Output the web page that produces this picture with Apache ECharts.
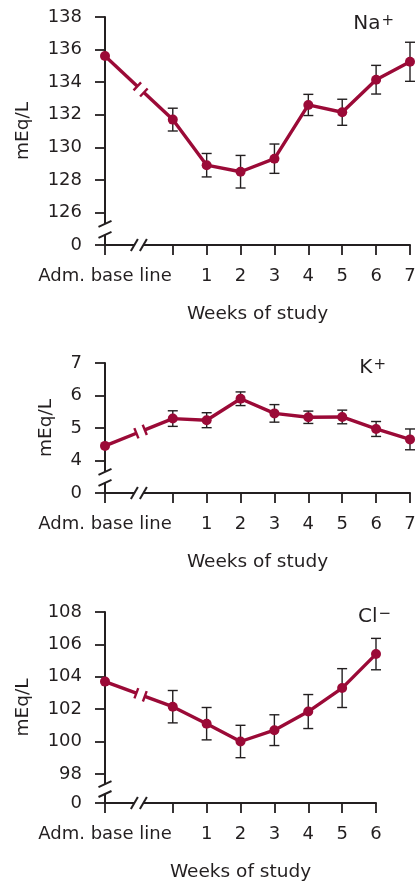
<!DOCTYPE html>
<html>
<head>
<meta charset="utf-8">
<script src="https://cdn.jsdelivr.net/npm/echarts@6/dist/echarts.min.js"></script>
<style>
  html, body { margin: 0; padding: 0; background: #ffffff; }
  #chart { width: 419px; height: 883px; }
</style>
</head>
<body>
<div id="chart"></div>
<script>
// Study time line: admission base line, an axis break, the start of study, then weekly visits.
const stages   = ['Adm. base line', 'gap', 'start', '1', '2', '3', '4', '5', '6', '7'];
const clStages = ['Adm. base line', 'gap', 'start', '1', '2', '3', '4', '5', '6'];

// Serum sodium (mEq/L): mean and ± error per time point
const naMean = [135.6, null, 131.7, 128.9, 128.5, 129.3, 132.6, 132.15, 134.15, 135.25];
const naErr  = [null,  null, 0.7,   0.72,  1.0,   0.9,   0.65,  0.8,    0.88,   1.2];
const naYTicks = [124, 126, 128, 130, 132, 134, 136, 138];

// Serum potassium (mEq/L)
const kMean = [4.45, null, 5.29, 5.24, 5.9,  5.45, 5.33, 5.34, 4.97, 4.65];
const kErr  = [null, null, 0.24, 0.23, 0.21, 0.27, 0.19, 0.21, 0.23, 0.32];
const kYTicks = [3, 4, 5, 6, 7];

// Serum chloride (mEq/L)
const clMean = [103.7, null, 102.15, 101.1, 100.0, 100.7, 101.85, 103.3, 105.4];
const clErr  = [null,  null, 1.0,    1.0,   1.0,   0.95,  1.05,   1.2,   0.97];
const clYTicks = [96.2, 98, 100, 102, 104, 106, 108];

const FONT = 'DejaVu Sans';
const INK = '#231f20';
const WINE = '#9b0a37';

const panels = [
  { ion: 'Na', sign: '+', cats: stages,   mean: naMean, err: naErr, ticks: naYTicks,
    grid: { left: 105, top: 17, width: 305, height: 228 }, nameGap: 72,
    title: { right: 20, top: 9 } },
  { ion: 'K',  sign: '+', cats: stages,   mean: kMean,  err: kErr,  ticks: kYTicks,
    grid: { left: 105, top: 363, width: 305, height: 130 }, nameGap: 49,
    title: { right: 28, top: 353 } },
  { ion: 'Cl', sign: '\u2212', cats: clStages, mean: clMean, err: clErr, ticks: clYTicks,
    grid: { left: 105, top: 612, width: 271, height: 191 }, nameGap: 72,
    title: { right: 23, top: 602 } }
];

// Vertical error bar with short caps
function errorBarItem(params, api) {
  const x = api.value(0);
  const hi = api.coord([x, api.value(2)]);
  const lo = api.coord([x, api.value(1)]);
  const w = 5;
  const style = { stroke: INK, lineWidth: 1.4 };
  return {
    type: 'group',
    children: [
      { type: 'line', shape: { x1: hi[0], y1: hi[1], x2: lo[0], y2: lo[1] }, style },
      { type: 'line', shape: { x1: hi[0] - w, y1: hi[1], x2: hi[0] + w, y2: hi[1] }, style },
      { type: 'line', shape: { x1: lo[0] - w, y1: lo[1], x2: lo[0] + w, y2: lo[1] }, style }
    ]
  };
}

// Line from the admission value to the start of study, interrupted by a break
function makeConnector(mean) {
  return function (params, api) {
    const p0 = api.coord([0, mean[0]]);
    const p1 = api.coord([2, mean[2]]);
    const dx = p1[0] - p0[0], dy = p1[1] - p0[1];
    const len = Math.hypot(dx, dy);
    const ux = dx / len, uy = dy / len;
    const nx = -uy, ny = ux;
    const mid = 0.525 * len, half = 4.5, cap = 5.5;
    const a = [p0[0] + ux * (mid - half), p0[1] + uy * (mid - half)];
    const b = [p0[0] + ux * (mid + half), p0[1] + uy * (mid + half)];
    const seg = { stroke: WINE, lineWidth: 3.4 };
    const capStyle = { stroke: WINE, lineWidth: 2.4 };
    return {
      type: 'group',
      children: [
        { type: 'line', shape: { x1: p0[0], y1: p0[1], x2: a[0], y2: a[1] }, style: seg },
        { type: 'line', shape: { x1: b[0], y1: b[1], x2: p1[0], y2: p1[1] }, style: seg },
        { type: 'line', shape: { x1: a[0] - nx * cap, y1: a[1] - ny * cap, x2: a[0] + nx * cap, y2: a[1] + ny * cap }, style: capStyle },
        { type: 'line', shape: { x1: b[0] - nx * cap, y1: b[1] - ny * cap, x2: b[0] + nx * cap, y2: b[1] + ny * cap }, style: capStyle }
      ]
    };
  };
}

// Break marks on both axes (between the zero label and the first real tick)
function makeAxisBreaks(ticks) {
  return function (params, api) {
    const base = api.coord([0, ticks[0]]);
    const up = api.coord([0, ticks[1]]);
    const span = base[1] - up[1];
    const ax = base[0];
    const yA = base[1] - 0.31 * span;
    const yB = base[1] - 0.65 * span;
    const bx = api.coord([1, ticks[0]])[0];
    const xA = bx - 4.5, xB = bx + 4.5;
    const y0 = base[1];
    const mark = { stroke: INK, lineWidth: 2 };
    const white = { fill: '#ffffff' };
    return {
      type: 'group',
      children: [
        { type: 'rect', shape: { x: ax - 3, y: yB, width: 6, height: yA - yB }, style: white },
        { type: 'line', shape: { x1: ax - 6.5, y1: yA + 3, x2: ax + 6.5, y2: yA - 3 }, style: mark },
        { type: 'line', shape: { x1: ax - 6.5, y1: yB + 3, x2: ax + 6.5, y2: yB - 3 }, style: mark },
        { type: 'rect', shape: { x: xA, y: y0 - 3, width: xB - xA, height: 6 }, style: white },
        { type: 'line', shape: { x1: xA - 3.5, y1: y0 + 6, x2: xA + 3.5, y2: y0 - 6 }, style: mark },
        { type: 'line', shape: { x1: xB - 3.5, y1: y0 + 6, x2: xB + 3.5, y2: y0 - 6 }, style: mark }
      ]
    };
  };
}

const grid = [], xAxis = [], yAxis = [], series = [], title = [];

panels.forEach((p, i) => {
  grid.push(Object.assign({ containLabel: false, outerBoundsMode: 'none' }, p.grid));

  title.push({
    text: '{m|' + p.ion + '}{s|' + p.sign + '}',
    right: p.title.right, top: p.title.top,
    textStyle: {
      fontWeight: 'normal',
      rich: {
        m: { fontFamily: FONT, fontSize: 20, fontWeight: 'normal', color: INK },
        s: { fontFamily: FONT, fontSize: 15, fontWeight: 'normal', color: INK, verticalAlign: 'top', padding: [0, 0, 0, 1] }
      }
    }
  });

  xAxis.push({
    gridIndex: i, type: 'category', data: p.cats, boundaryGap: false,
    axisLine: { lineStyle: { color: INK, width: 2 } },
    axisTick: { length: 10, interval: (idx) => idx !== 1, lineStyle: { color: INK, width: 1.8 } },
    axisLabel: {
      interval: 0, margin: 22, color: INK, fontFamily: FONT, fontSize: 18,
      formatter: (v) => (v === 'gap' || v === 'start') ? '' : v
    },
    splitLine: { show: false },
    name: 'Weeks of study', nameLocation: 'middle', nameGap: 60,
    nameTextStyle: { color: INK, fontFamily: FONT, fontSize: 18.5 }
  });

  yAxis.push({
    gridIndex: i, type: 'value',
    min: p.ticks[0], max: p.ticks[p.ticks.length - 1],
    axisLine: { show: true, lineStyle: { color: INK, width: 2 } },
    axisTick: { show: true, length: 10, customValues: p.ticks, lineStyle: { color: INK, width: 1.8 } },
    axisLabel: {
      customValues: p.ticks, margin: 23, color: INK, fontFamily: FONT, fontSize: 18,
      formatter: (v) => v === p.ticks[0] ? '0' : String(v)
    },
    splitLine: { show: false },
    name: 'mEq/L', nameLocation: 'middle', nameGap: p.nameGap, nameRotate: 90,
    nameTextStyle: { color: INK, fontFamily: FONT, fontSize: 18.5 }
  });

  const bars = [];
  p.mean.forEach((m, k) => {
    if (m != null && p.err[k] != null) bars.push([k, m - p.err[k], m + p.err[k]]);
  });

  series.push({
    type: 'custom', xAxisIndex: i, yAxisIndex: i, z: 2, silent: true,
    renderItem: errorBarItem, encode: { x: 0, y: [1, 2] }, data: bars
  });
  series.push({
    type: 'custom', xAxisIndex: i, yAxisIndex: i, z: 3, silent: true,
    renderItem: makeConnector(p.mean), data: [[0, p.mean[0]]]
  });
  series.push({
    type: 'line', xAxisIndex: i, yAxisIndex: i, z: 4, silent: true,
    data: p.mean, connectNulls: false, showSymbol: true, showAllSymbol: true,
    symbol: 'circle', symbolSize: 10,
    itemStyle: { color: WINE }, lineStyle: { color: WINE, width: 3.4 },
    animation: false
  });
  series.push({
    type: 'custom', xAxisIndex: i, yAxisIndex: i, z: 5, silent: true,
    renderItem: makeAxisBreaks(p.ticks), data: [[0, p.ticks[0]]]
  });
});

const chart = echarts.init(document.getElementById('chart'), null, { renderer: 'canvas' });
chart.setOption({
  animation: false,
  backgroundColor: '#ffffff',
  title, grid, xAxis, yAxis, series
});
</script>
</body>
</html>
